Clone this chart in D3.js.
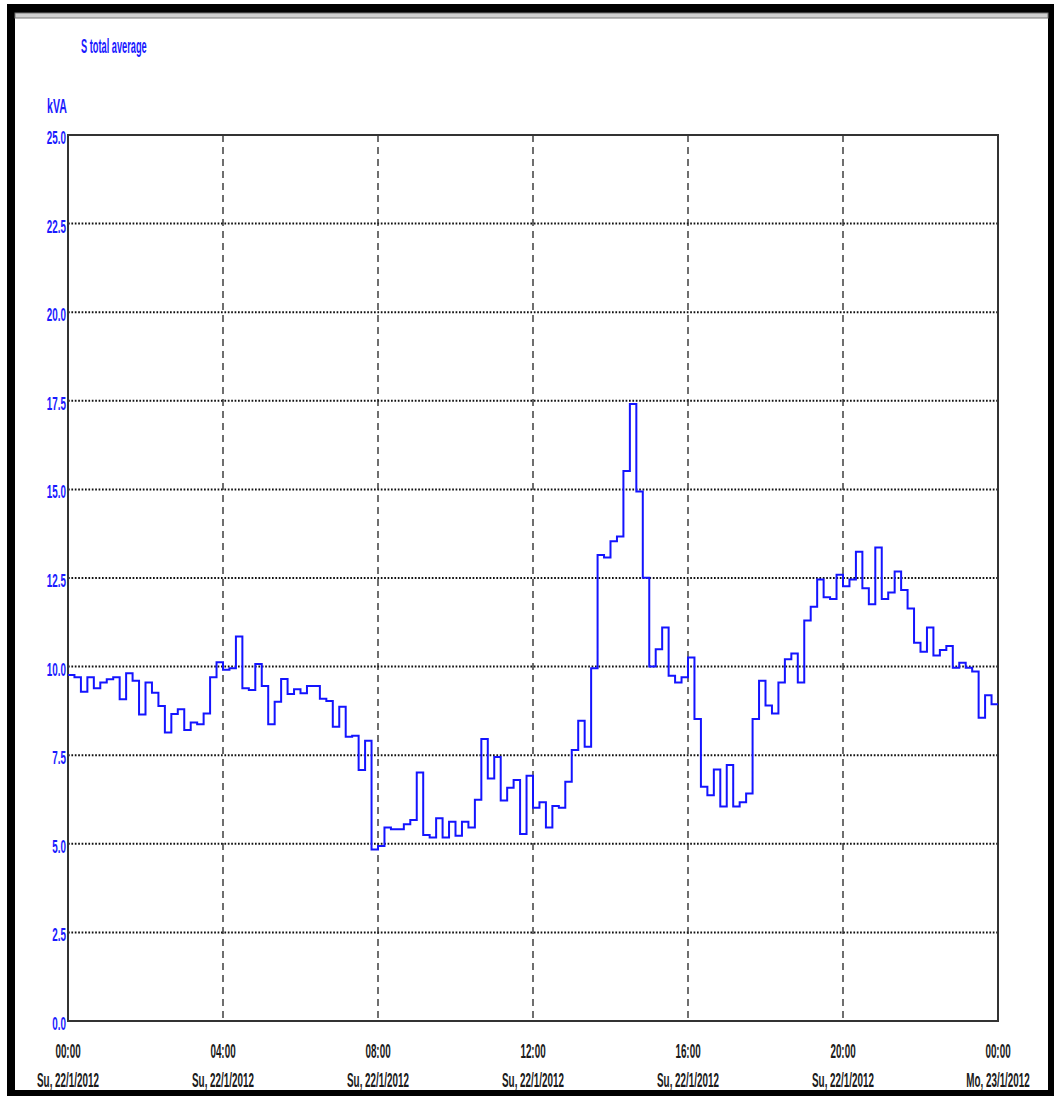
<!DOCTYPE html>
<html>
<head>
<meta charset="utf-8">
<script src="https://cdn.jsdelivr.net/npm/d3@7"></script>
<style>
  html, body { margin: 0; padding: 0; background: #fff; }
  svg { display: block; }
  text { font-family: "Liberation Sans", Arial, sans-serif; }
</style>
</head>
<body>
<script>
// Apparent power, 10-minute averages over one day (kVA)
const seriesName = "S total average";
const unitLabel = "kVA";
const startTime = new Date(2012, 0, 22, 0, 0);
const endTime = new Date(2012, 0, 23, 0, 0);
const stepMinutes = 10;
const sValues = [
  9.76, 9.70, 9.29, 9.70, 9.39, 9.55, 9.64, 9.70, 9.08, 9.81, 9.60, 8.65,
  9.55, 9.26, 8.89, 8.14, 8.66, 8.80, 8.21, 8.42, 8.37, 8.68, 9.70, 10.12,
  9.91, 9.95, 10.85, 9.39, 9.34, 10.07, 9.45, 8.37, 9.01, 9.65, 9.23, 9.36,
  9.25, 9.45, 9.45, 9.09, 9.03, 8.30, 8.87, 8.02, 8.05, 7.08, 7.91, 4.84,
  4.94, 5.46, 5.41, 5.41, 5.55, 5.67, 7.01, 5.25, 5.18, 5.72, 5.18, 5.62,
  5.23, 5.62, 5.46, 6.24, 7.96, 6.84, 7.45, 6.22, 6.58, 6.80, 5.28, 6.92,
  6.02, 6.17, 5.46, 6.07, 6.02, 6.75, 7.65, 8.47, 7.74, 9.95, 13.15, 13.08,
  13.54, 13.67, 15.52, 17.41, 14.94, 12.51, 10.00, 10.49, 11.10, 9.74, 9.55, 9.70,
  10.26, 8.52, 6.61, 6.37, 7.10, 6.05, 7.22, 6.05, 6.17, 6.42, 8.52, 9.60,
  8.90, 8.68, 9.55, 10.21, 10.37, 9.55, 11.30, 11.69, 12.46, 11.96, 11.91, 12.59,
  12.27, 12.46, 13.24, 12.21, 11.76, 13.36, 11.91, 12.09, 12.68, 12.16, 11.64, 10.67,
  10.42, 11.10, 10.31, 10.47, 10.58, 9.97, 10.11, 9.97, 9.86, 8.56, 9.19, 8.94
];
const yTicks = [0, 2.5, 5, 7.5, 10, 12.5, 15, 17.5, 20, 22.5, 25];
const xTickHours = [0, 4, 8, 12, 16, 20, 24];
const dayNames = ["Su", "Mo", "Tu", "We", "Th", "Fr", "Sa"];

const W = 1054, H = 1096;
const plot = { left: 68, right: 998, top: 135, bottom: 1021 };

const svg = d3.select("body").append("svg")
  .attr("width", W).attr("height", H);

svg.append("rect").attr("width", W).attr("height", H).attr("fill", "#fff");

const x = d3.scaleTime().domain([startTime, endTime]).range([plot.left, plot.right]);
const y = d3.scaleLinear().domain([0, 25]).range([plot.bottom, plot.top]);

// condensed text helper
function label(g, tx, ty, str, opts) {
  const grp = g.append("g").attr("transform", `translate(${tx},${ty})`);
  return grp.append("text")
    .attr("transform", `scale(${opts.sx},1)`)
    .attr("text-anchor", opts.anchor || "start")
    .attr("font-size", opts.size)
    .attr("font-weight", opts.weight || "normal")
    .attr("fill", opts.fill)
    .text(str);
}

// window frame
const frame = svg.append("g");
frame.append("rect").attr("x", 7).attr("y", 4).attr("width", W - 7).attr("height", 9).attr("fill", "#000");
frame.append("rect").attr("x", 7).attr("y", 4).attr("width", 8).attr("height", H - 4).attr("fill", "#000");
frame.append("rect").attr("x", 1048).attr("y", 4).attr("width", 6).attr("height", H - 4).attr("fill", "#000");
frame.append("rect").attr("x", 7).attr("y", 1090).attr("width", W - 7).attr("height", 6).attr("fill", "#000");
frame.append("rect").attr("x", 15).attr("y", 13).attr("width", 1033).attr("height", 5)
  .attr("fill", "#d0d0d0").attr("stroke", "#777").attr("stroke-width", 1);

// horizontal dotted grid
const grid = svg.append("g");
grid.selectAll("line.h")
  .data(yTicks.filter(v => v > 0 && v < 25))
  .join("line")
  .attr("class", "h")
  .attr("x1", plot.left).attr("x2", plot.right)
  .attr("y1", d => y(d)).attr("y2", d => y(d))
  .attr("stroke", "#111").attr("stroke-width", 2)
  .attr("stroke-dasharray", "1.7,1.7");

// vertical dashed grid
const hourTime = h => new Date(startTime.getTime() + h * 3600 * 1000);
grid.selectAll("line.v")
  .data(xTickHours.filter(h => h > 0 && h < 24))
  .join("line")
  .attr("class", "v")
  .attr("x1", d => x(hourTime(d))).attr("x2", d => x(hourTime(d)))
  .attr("y1", plot.top).attr("y2", plot.bottom)
  .attr("stroke", "#222").attr("stroke-width", 1.3)
  .attr("stroke-dasharray", "7,5");

// plot border
svg.append("rect")
  .attr("x", plot.left).attr("y", plot.top)
  .attr("width", plot.right - plot.left).attr("height", plot.bottom - plot.top)
  .attr("fill", "none").attr("stroke", "#333").attr("stroke-width", 2);

// step line
const points = sValues.map((v, i) => ({ t: new Date(startTime.getTime() + i * stepMinutes * 60000), v }));
points.push({ t: endTime, v: sValues[sValues.length - 1] });
const line = d3.line().x(d => x(d.t)).y(d => y(d.v)).curve(d3.curveStepAfter);
svg.append("path")
  .datum(points)
  .attr("d", line)
  .attr("fill", "none")
  .attr("stroke", "#1414ff")
  .attr("stroke-width", 2);

// y tick labels
const yLab = svg.append("g");
yTicks.forEach(v => {
  label(yLab, 66, y(v) + 9, d3.format(".1f")(v), { sx: 0.52, size: 19, anchor: "end", fill: "#1a1aff", weight: "bold" });
});

// unit and title
label(svg, 47, 113, unitLabel, { sx: 0.53, size: 20, anchor: "start", fill: "#1a1aff", weight: "bold" });
label(svg, 81, 53, seriesName, { sx: 0.44, size: 21, anchor: "start", fill: "#1a1aff", weight: "bold" });

// x tick labels: time and date
const fmtTime = d3.timeFormat("%H:%M");
const fmtDate = d => `${dayNames[d.getDay()]}, ${d.getDate()}/${d.getMonth() + 1}/${d.getFullYear()}`;
const xLab = svg.append("g");
xTickHours.forEach(h => {
  const t = hourTime(h);
  label(xLab, x(t), 1058, fmtTime(t), { sx: 0.47, size: 21, anchor: "middle", fill: "#1a1a1a", weight: "bold" });
  label(xLab, x(t), 1087, fmtDate(t), { sx: 0.47, size: 21, anchor: "middle", fill: "#1a1a1a", weight: "bold" });
});
</script>
</body>
</html>
